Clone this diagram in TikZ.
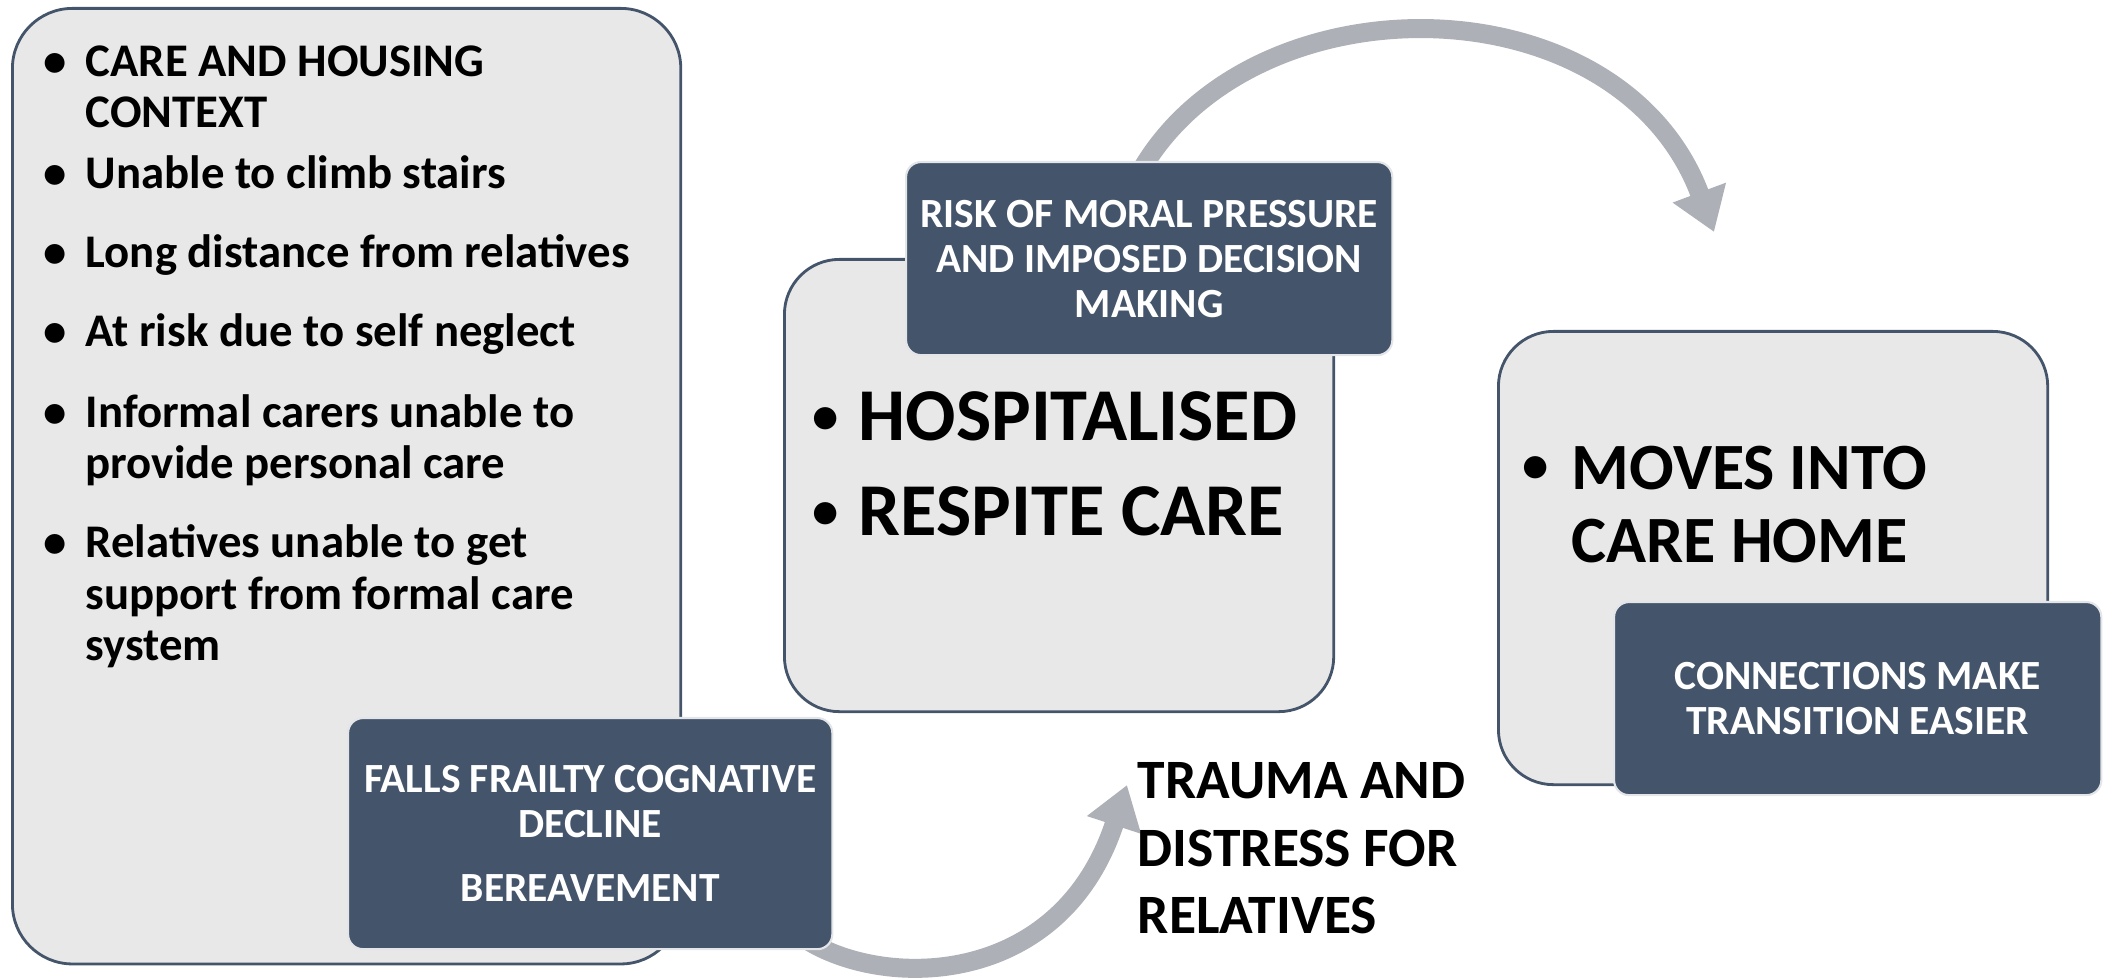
\documentclass[tikz,border=0pt]{standalone}
\usepackage{fontspec}
\setmainfont{Carlito}
\usetikzlibrary{arrows.meta,backgrounds}

\definecolor{slate}{RGB}{68,84,106}
\definecolor{paper}{RGB}{232,232,232}
\definecolor{flowgray}{RGB}{173,176,183}

\tikzset{
  softbox/.style={draw=slate, line width=0.8pt, fill=paper, rounded corners=0.55cm,
    anchor=north west, inner sep=0pt},
  tagbox/.style={draw=white!85!slate, line width=0.6pt, fill=slate, text=white,
    rounded corners=0.15cm, anchor=north west, align=center, inner sep=0pt,
    font=\bfseries\fontsize{11.8pt}{12.8pt}\selectfont},
  listtxt/.style={anchor=base west, inner sep=0pt, font=\bfseries\fontsize{13.3pt}{14.5pt}\selectfont},
  bigtxt/.style={anchor=base west, inner sep=0pt, font=\bfseries\fontsize{21.2pt}{25pt}\selectfont},
  hometxt/.style={anchor=base west, inner sep=0pt, font=\bfseries\fontsize{18.8pt}{22pt}\selectfont},
  outtxt/.style={anchor=base west, inner sep=0pt, font=\bfseries\fontsize{15.8pt}{19pt}\selectfont},
  flow/.style={draw=flowgray, line width=0.19cm, -{Triangle[width=0.54cm,length=0.42cm]}}
}

% bullets hanging left of the text
\newcommand{\bul}[1]{\llap{\textbullet\hspace{#1}}}
\newcommand{\bigbul}[1]{\llap{\raisebox{0.07cm}{\fontsize{15pt}{15pt}\selectfont\textbullet}\hspace{#1}}}

\begin{document}
\begin{tikzpicture}[x=0.01cm,y=-0.01cm]
  \useasboundingbox (0,0) rectangle (2109,980);

  % the three stages
  \node[softbox, minimum width=6.68cm, minimum height=9.55cm, rounded corners=0.6cm] (ctx) at (11,7) {};
  \node[softbox, minimum width=5.49cm, minimum height=4.52cm] (hosp) at (783,258) {};
  \node[softbox, minimum width=5.49cm, minimum height=4.53cm] (home) at (1497,330) {};

  % first stage list
  \node[listtxt] (c1) at (85,77) {\bul{0.19cm}CARE AND HOUSING};
  \node[listtxt] (c2) at (85,128) {CONTEXT};
  \node[listtxt] (c3) at (85,189) {\bul{0.19cm}Unable to climb stairs};
  \node[listtxt] (c4) at (85,268) {\bul{0.19cm}Long distance from relatives};
  \node[listtxt] (c5) at (85,347) {\bul{0.19cm}At risk due to self neglect};
  \node[listtxt] (c6) at (85,428) {\bul{0.19cm}Informal carers unable to};
  \node[listtxt] (c7) at (85,479) {provide personal care};
  \node[listtxt] (c8) at (85,558) {\bul{0.19cm}Relatives unable to get};
  \node[listtxt] (c9) at (85,610) {support from formal care};
  \node[listtxt] (c10) at (85,661) {system};

  % second and third stage
  \node[bigtxt] (h1) at (858,441) {\bigbul{0.20cm}HOSPITALISED};
  \node[bigtxt] (h2) at (858,536) {\bigbul{0.20cm}RESPITE CARE};
  \node[hometxt] (m1) at (1571,490) {\bigbul{0.23cm}MOVES INTO};
  \node[hometxt] (m2) at (1571,563) {CARE HOME};

  \node[outtxt] (t1) at (1137,799) {TRAUMA AND};
  \node[outtxt] (t2) at (1137,867) {DISTRESS FOR};
  \node[outtxt] (t3) at (1137,934) {RELATIVES};

  % dark tags
  \node[tagbox, minimum width=4.86cm, minimum height=1.93cm] (risk) at (905,161)
    {RISK OF MORAL PRESSURE\\AND IMPOSED DECISION\\MAKING};
  \node[tagbox, minimum width=4.84cm, minimum height=2.31cm] (falls) at (347,717)
    {FALLS FRAILTY COGNATIVE\\DECLINE\\[0.19cm]BEREAVEMENT};
  \node[tagbox, minimum width=4.87cm, minimum height=1.93cm] (conn) at (1613,601)
    {CONNECTIONS MAKE\\TRANSITION EASIER};

  % curved arrows behind the tags
  \coordinate (up) at (1714,232);
  \coordinate (rise) at (1127,785);
  \begin{scope}[on background layer]
    \draw[flow] ([shift={(-8,9)}]risk.north) .. controls (1255,-25) and (1620,-20) .. (up);
    \draw[flow] ([shift={(-31,-13)}]falls.south east) .. controls (880,990) and (1060,990) .. (rise);
  \end{scope}
\end{tikzpicture}
\end{document}
